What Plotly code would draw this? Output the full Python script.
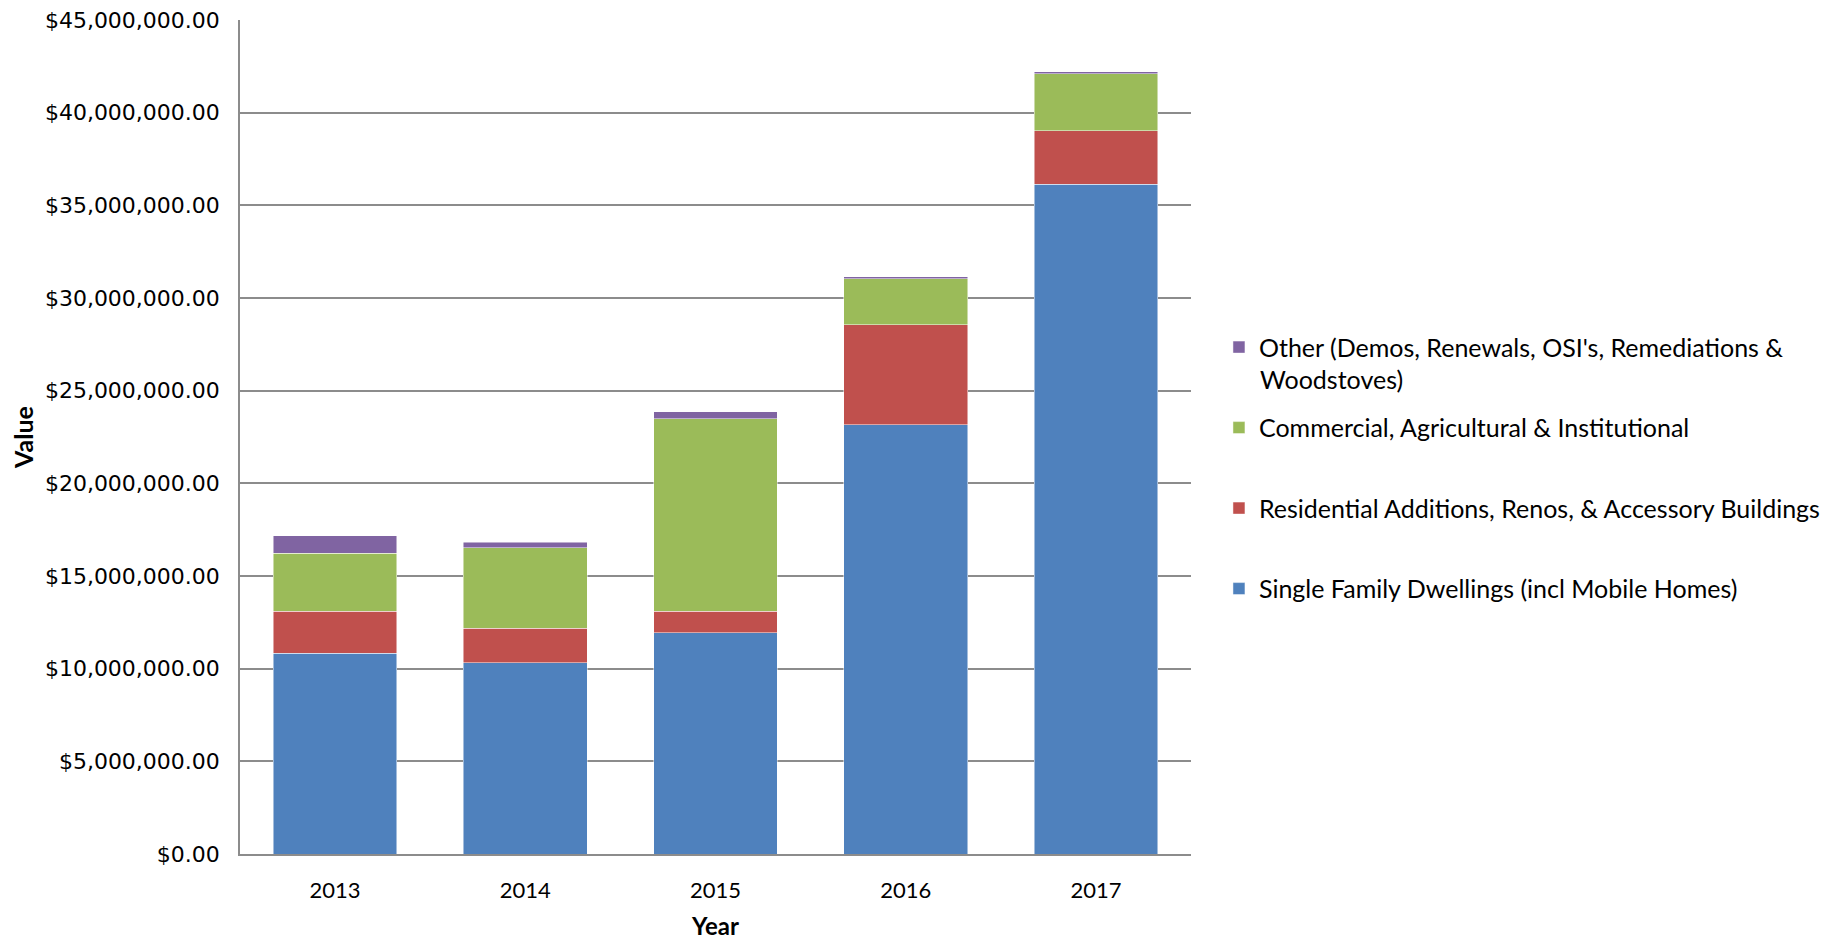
import plotly.graph_objects as go

years = ["2013", "2014", "2015", "2016", "2017"]
single_family = [10.83e6, 10.31e6, 11.94e6, 23.17e6, 36.14e6]
residential = [2.28e6, 1.87e6, 1.17e6, 5.39e6, 2.88e6]
commercial = [3.13e6, 4.35e6, 10.38e6, 2.47e6, 3.09e6]
other = [0.94e6, 0.29e6, 0.36e6, 0.11e6, 0.11e6]

series = [
    ("Single Family Dwellings (incl Mobile Homes)", single_family, "#4F81BD"),
    ("Residential Additions, Renos, & Accessory Buildings", residential, "#C0504D"),
    ("Commercial, Agricultural & Institutional", commercial, "#9BBB59"),
    ("Other (Demos, Renewals, OSI's, Remediations &", other, "#8064A2"),
]
other_second_line = "Woodstoves)"

fig = go.Figure()
for i, (name, vals, col) in enumerate(series):
    fig.add_trace(go.Bar(
        x=years, y=vals, name=name, marker_color=col,
        marker_line=dict(width=0.8, color="rgba(255,255,255,0.6)"),
        legendgroup=str(i), legendrank=10 - i,
    ))

fig.add_annotation(
    text=other_second_line, xref="paper", yref="paper",
    x=1.0706, y=0.5695, xanchor="left", yanchor="middle", showarrow=False,
    font=dict(family="Lato", size=25, color="#000000"),
)

fig.update_layout(
    barmode="stack",
    bargap=0.35,
    width=1829, height=943,
    margin=dict(l=232, r=644, t=12, b=97),
    plot_bgcolor="white", paper_bgcolor="white",
    font=dict(family="Lato", color="#000000"),
    legend=dict(
        x=1.0294, y=0.463, xanchor="left", yanchor="middle",
        traceorder="grouped", tracegroupgap=45,
        font=dict(family="Lato", size=25, color="#000000"),
        itemwidth=30,
    ),
    yaxis=dict(
        range=[0, 45e6], dtick=5e6, tickformat="$,.2f",
        tickfont=dict(family="DejaVu Sans", size=22, color="#000000"),
        showgrid=True, gridcolor="#8C8C8C", gridwidth=1.5,
        showline=True, linecolor="#8C8C8C", linewidth=1.5,
        zeroline=False, ticklabelstandoff=14, automargin=False,
        ticklabeloverflow="allow",
        title=dict(text="<b>Value</b>", font=dict(family="Lato", size=25), standoff=20),
    ),
    xaxis=dict(
        tickfont=dict(family="Lato", size=22, color="#000000"),
        showline=True, linecolor="#8C8C8C", linewidth=1.5,
        ticklabelstandoff=16, automargin=False,
        title=dict(text="<b>Year</b>", font=dict(family="Lato", size=24), standoff=16),
    ),
)

fig.write_html("out.html")
